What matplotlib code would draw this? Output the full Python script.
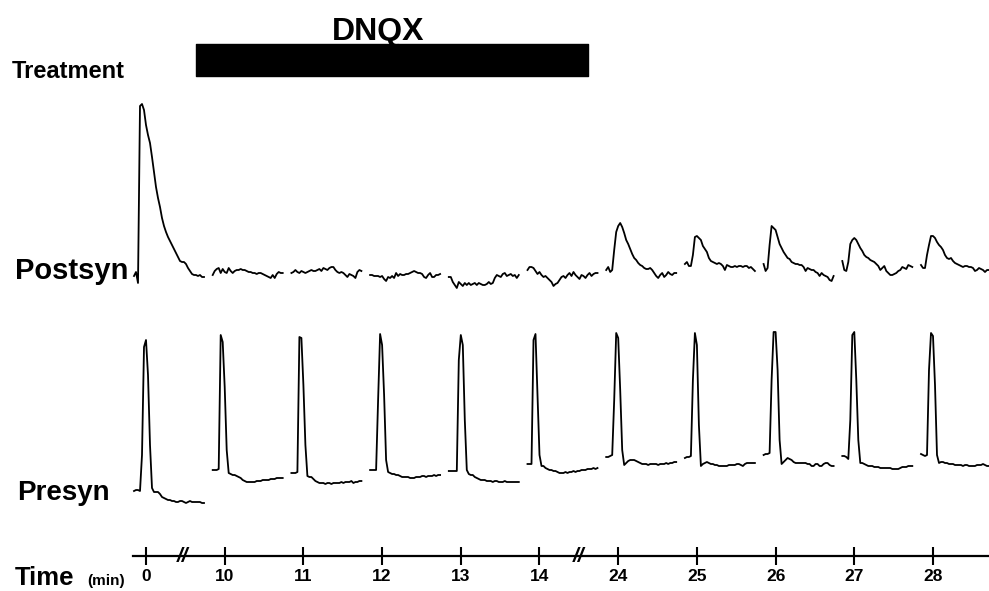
"""
Paired recording (presynaptic / postsynaptic) before, during and after
DNQX application, redrawn as stacked sweeps on a broken time axis.
"""

import numpy as np
import matplotlib
import matplotlib.pyplot as plt

matplotlib.use("Agg")

plt.rcParams["font.family"] = ["Liberation Sans", "DejaVu Sans"]
plt.rcParams["font.weight"] = "bold"

# sweep times (min) and sample times within a sweep (ms)
SWEEP_MIN = [0, 10, 11, 12, 13, 14, 24, 25, 26, 27, 28]
SAMPLE_MS = np.arange(0, 71, 2)

# postsynaptic sweeps (mV, relative)
POST_0 = [0.4, 0.8, -0.3, 17.4, 17.6, 17.0, 15.5, 14.5, 13.7, 12.3, 10.8, 9.3,
          8.2, 7.3, 6.2, 5.4, 4.8, 4.3, 3.9, 3.5, 3.1, 2.7, 2.3, 1.9,
          1.8, 1.8, 1.6, 1.2, 0.9, 0.6, 0.5, 0.5, 0.4, 0.5, 0.3, 0.3]
POST_10 = [0.5, 0.9, 1.1, 1.2, 0.7, 1.1, 0.8, 0.7, 1.2, 0.9, 0.7, 0.9,
           1.0, 1.0, 1.1, 1.0, 1.0, 0.9, 0.8, 0.8, 0.7, 0.7, 0.6, 0.7,
           0.7, 0.6, 0.5, 0.4, 0.3, 0.2, 0.5, 0.2, 0.6, 0.8, 0.7, 0.7]
POST_11 = [0.7, 0.8, 1.0, 0.8, 0.7, 0.9, 0.8, 0.7, 0.8, 0.9, 1.0, 0.9,
           0.9, 1.0, 1.1, 0.9, 1.2, 1.1, 1.0, 1.2, 1.3, 1.3, 1.0, 0.8,
           0.7, 0.8, 0.7, 0.5, 0.3, 0.6, 0.5, 0.4, 0.2, 0.8, 1.0, 0.9]
POST_12 = [0.5, 0.5, 0.4, 0.4, 0.4, 0.3, 0.4, 0.1, -0.1, 0.3, 0.2, 0.4,
           0.2, 0.7, 0.4, 0.6, 0.5, 0.5, 0.6, 0.6, 0.7, 0.8, 0.9, 0.8,
           0.7, 0.7, 0.6, 0.3, 0.2, 0.5, 0.7, 0.3, 0.3, 0.5, 0.5, 0.6]
POST_13 = [0.3, 0.3, -0.2, -0.5, -0.8, -0.2, -0.4, -0.6, -0.3, -0.5, -0.3, -0.5,
           -0.4, -0.3, -0.5, -0.3, -0.4, -0.5, -0.5, -0.4, -0.2, -0.4, -0.3, 0.2,
           0.5, 0.4, 0.3, 0.6, 0.7, 0.4, 0.5, 0.6, 0.4, 0.5, 0.2, 0.5]
POST_14 = [1.0, 1.3, 1.3, 1.2, 0.9, 0.6, 0.8, 0.5, 0.3, 0.4, 0.2, 0.0,
           -0.2, -0.6, -0.4, -0.3, 0.0, 0.3, 0.4, 0.2, 0.5, 0.7, 0.4, 0.8,
           0.5, 0.3, 0.1, 0.5, 0.4, 0.2, 0.5, 0.7, 0.4, 0.6, 0.7, 0.7]
POST_24 = [1.0, 1.3, 0.8, 1.0, 3.0, 4.8, 5.4, 5.7, 5.3, 4.7, 4.0, 3.6,
           3.1, 2.6, 2.2, 2.0, 1.7, 1.5, 1.4, 1.2, 1.1, 1.1, 1.2, 1.0,
           0.7, 0.4, 0.2, 0.5, 0.7, 0.3, 0.5, 0.8, 0.6, 0.5, 0.7, 0.7]
POST_25 = [1.6, 1.8, 1.4, 1.4, 2.5, 4.3, 4.4, 4.2, 4.0, 3.4, 3.1, 2.8,
           2.2, 1.9, 1.8, 1.7, 1.6, 1.7, 1.6, 1.4, 1.0, 1.5, 1.4, 1.3,
           1.3, 1.4, 1.3, 1.4, 1.4, 1.3, 1.4, 1.4, 1.2, 1.3, 1.1, 0.9]
POST_26 = [1.6, 0.9, 1.2, 3.5, 5.4, 5.2, 5.0, 4.3, 3.6, 3.2, 2.8, 2.5,
           2.2, 2.1, 1.8, 1.7, 1.6, 1.6, 1.5, 1.5, 1.3, 0.9, 1.2, 1.1,
           1.0, 1.0, 0.8, 0.7, 0.4, 0.7, 0.5, 0.4, 0.3, 0.0, -0.1, 0.4]
POST_27 = [1.9, 1.0, 0.9, 1.8, 3.6, 4.0, 4.2, 4.0, 3.6, 3.2, 2.9, 2.5,
           2.3, 2.2, 2.0, 1.9, 1.8, 1.6, 1.4, 1.0, 1.2, 1.4, 0.9, 0.7,
           0.5, 0.5, 0.6, 0.7, 0.9, 1.0, 1.3, 1.2, 1.1, 1.5, 1.4, 1.3]
POST_28 = [1.5, 1.2, 1.2, 2.5, 3.5, 4.4, 4.4, 4.2, 3.8, 3.5, 3.3, 3.0,
           2.5, 2.2, 2.1, 2.2, 1.9, 1.7, 1.6, 1.5, 1.4, 1.3, 1.4, 1.4,
           1.3, 1.3, 1.2, 0.9, 1.0, 1.2, 1.1, 1.0, 0.8, 1.0, 1.0, 1.0]

# presynaptic sweeps (mV)
PRE_0 = [-65.5, -65, -65, -65.5, -47.5, 6.5, 10, -7.5, -42.5, -64, -66, -66,
         -66, -67, -68.5, -69, -69.5, -70, -70, -70.5, -70.5, -71, -71, -70.5,
         -70.5, -71, -71.5, -71, -70.5, -71, -71, -71, -71, -71, -71.5, -71.5]
PRE_10 = [-55, -55, -55, -54.5, 12.5, 9, -13.5, -45, -56.5, -57, -57.5, -57.5,
          -58, -58.5, -59, -60, -60.5, -61, -61, -61, -61, -61, -60.5, -60.5,
          -60.5, -60, -60, -60, -60, -59.5, -59.5, -59.5, -59, -59, -59, -59]
PRE_11 = [-56.5, -56.5, -56.5, -56, 11.5, 11, -12.5, -42.5, -58, -58.5, -58.5, -59.5,
          -60.5, -61, -61.5, -61.5, -61.5, -62, -61.5, -61.5, -62, -61.5, -61.5, -61.5,
          -61.5, -61, -61.5, -61, -61, -61, -60.5, -61.5, -61, -61, -60.5, -60.5]
PRE_12 = [-55, -55, -55, -55, -20, 13, 7.5, -17.5, -50, -56, -56.5, -57,
          -57, -57.5, -57.5, -58, -58.5, -58.5, -58.5, -58.5, -59, -59, -59, -58.5,
          -58.5, -58.5, -58, -58, -58.5, -58, -58, -58, -57.5, -58, -57.5, -57.5]
PRE_13 = [-55.5, -55.5, -55.5, -55.5, -55.5, 0, 12.5, 7.5, -30, -55, -57, -57.5,
          -57.5, -58.5, -59, -59.5, -60, -60, -60, -60.5, -60.5, -60.5, -61, -60.5,
          -60.5, -61, -61, -61, -60.5, -61, -61, -61, -61, -61, -61, -61]
PRE_14 = [-52, -52, -52, 10, 13, -17.5, -47.5, -53, -53, -54, -54.5, -55,
          -55, -55.5, -55.5, -56, -56.5, -56.5, -56.5, -56, -56.5, -56, -56, -55.5,
          -56, -55.5, -55.5, -55, -55, -55, -54.5, -54.5, -54.5, -54, -54.5, -54]
PRE_24 = [-48.5, -48.5, -48, -47.5, -20, 13.5, 11, -15, -45, -52.5, -51.5, -50.5,
          -50, -50, -50, -50.5, -51, -51.5, -52, -52, -52, -52.5, -52, -52,
          -52, -52, -52.5, -52, -52, -52, -51.5, -52, -51.5, -51.5, -51, -51]
PRE_25 = [-49, -48.5, -48.5, -48, -10, 13.5, 7.5, -32.5, -53, -52, -51.5, -51,
          -51.5, -52, -52, -52.5, -52.5, -53, -53, -53, -53, -53, -52.5, -52.5,
          -52.5, -52.5, -52, -52, -52.5, -53, -52, -51.5, -51.5, -51.5, -51.5, -51.5]
PRE_26 = [-47.5, -47, -47, -46.5, -10, 14, 14, -5, -40, -52, -51, -50,
          -49, -49.5, -50, -51, -51.5, -51.5, -51.5, -51.5, -51.5, -51.5, -52, -52,
          -53, -53, -52, -52, -53, -53, -52, -51.5, -51.5, -52.5, -53, -53]
PRE_27 = [-48, -48, -48.5, -49.5, -30, 12.5, 14, -10, -40, -51.5, -51.5, -52,
          -52.5, -53, -53, -53, -53.5, -53.5, -53.5, -54, -54, -54, -54, -54,
          -54, -54.5, -54.5, -54.5, -54.5, -54, -53.5, -53.5, -53.5, -53, -53, -53]
PRE_28 = [-47, -47.5, -48, -47.5, -5, 13.5, 12, -12.5, -47.5, -51.5, -51, -51,
          -51.5, -51.5, -52, -52, -52, -52.5, -52.5, -52.5, -52.5, -53, -52.5, -52.5,
          -53, -53, -53, -53, -52.5, -52.5, -52.5, -52, -52.5, -53, -53, -53]

POSTSYN = [POST_0, POST_10, POST_11, POST_12, POST_13, POST_14,
           POST_24, POST_25, POST_26, POST_27, POST_28]
PRESYN = [PRE_0, PRE_10, PRE_11, PRE_12, PRE_13, PRE_14,
          PRE_24, PRE_25, PRE_26, PRE_27, PRE_28]

# DNQX application, in sweep slots of the broken axis
TREATMENT_LABEL = "DNQX"
TREATMENT_SPAN = (0.635, 5.616)
AXIS_BREAKS = [0.47, 5.5]

# display: each sweep slot is ~79 ms wide, sweeps start 12 ms before their tick
SLOT_MS = 78.7
ONSET_MS = 12
FIG_W, FIG_H = 989, 591
XLIM = (-146 / SLOT_MS, (FIG_W - 146) / SLOT_MS)


def band(top, bottom):
    """Full-width axes rectangle between two pixel rows (from the top)."""
    return [0, 1 - bottom / FIG_H, 1, (bottom - top) / FIG_H]


def blank_axes(fig, top, bottom):
    ax = fig.add_axes(band(top, bottom))
    ax.set_xlim(*XLIM)
    ax.axis("off")
    return ax


def plot_sweeps(ax, sweeps):
    for slot, values in enumerate(sweeps):
        x = slot + (SAMPLE_MS - ONSET_MS) / SLOT_MS
        ax.plot(x, values, color="black", lw=1.3, clip_on=False)


def fig_text(fig, x_px, base_px, text, size):
    fig.text(x_px / FIG_W, 1 - base_px / FIG_H, text, fontsize=size,
             fontweight="bold", ha="left", va="baseline")


def draw_figure():
    fig = plt.figure(figsize=(FIG_W / 100, FIG_H / 100), dpi=100)

    # treatment bar
    ax_head = blank_axes(fig, 0, 90)
    ax_head.set_ylim(90, 0)
    ax_head.broken_barh([(TREATMENT_SPAN[0], TREATMENT_SPAN[1] - TREATMENT_SPAN[0])],
                        (44, 32), color="black")
    ax_head.text(2.95, 40, TREATMENT_LABEL, fontsize=23, fontweight="bold",
                 ha="center", va="baseline")

    # postsynaptic traces
    ax_post = blank_axes(fig, 90, 300)
    ax_post.set_ylim(-2, 19)
    plot_sweeps(ax_post, POSTSYN)

    # presynaptic traces
    ax_pre = blank_axes(fig, 320, 520)
    ax_pre.set_ylim(-80, 20)
    plot_sweeps(ax_pre, PRESYN)

    # broken time axis
    ax_t = fig.add_axes(band(530, 556))
    ax_t.set_xlim(*XLIM)
    ax_t.set_ylim(0, 1)
    for side in ("top", "left", "right"):
        ax_t.spines[side].set_visible(False)
    ax_t.spines["bottom"].set_bounds(-0.165, XLIM[1])
    ax_t.spines["bottom"].set_linewidth(1.6)
    ax_t.set_yticks([])
    ax_t.patch.set_visible(False)
    ax_t.set_xticks(range(len(SWEEP_MIN)))
    ax_t.set_xticklabels([str(m) for m in SWEEP_MIN])
    ax_t.tick_params(axis="x", direction="inout", length=13, width=1.5,
                     pad=3, labelsize=12.5)
    for brk in AXIS_BREAKS:
        ax_t.text(brk, 0, "//", fontsize=15, fontweight="bold", style="italic",
                  ha="center", va="center")

    # row labels
    fig_text(fig, 12, 78, "Treatment", 17)
    fig_text(fig, 15, 279, "Postsyn", 21)
    fig_text(fig, 17, 500, "Presyn", 20)
    fig_text(fig, 15, 585, "Time", 18.5)
    fig_text(fig, 87, 585, "(min)", 11)

    fig.savefig("out.png", dpi=100)


if __name__ == "__main__":
    draw_figure()
